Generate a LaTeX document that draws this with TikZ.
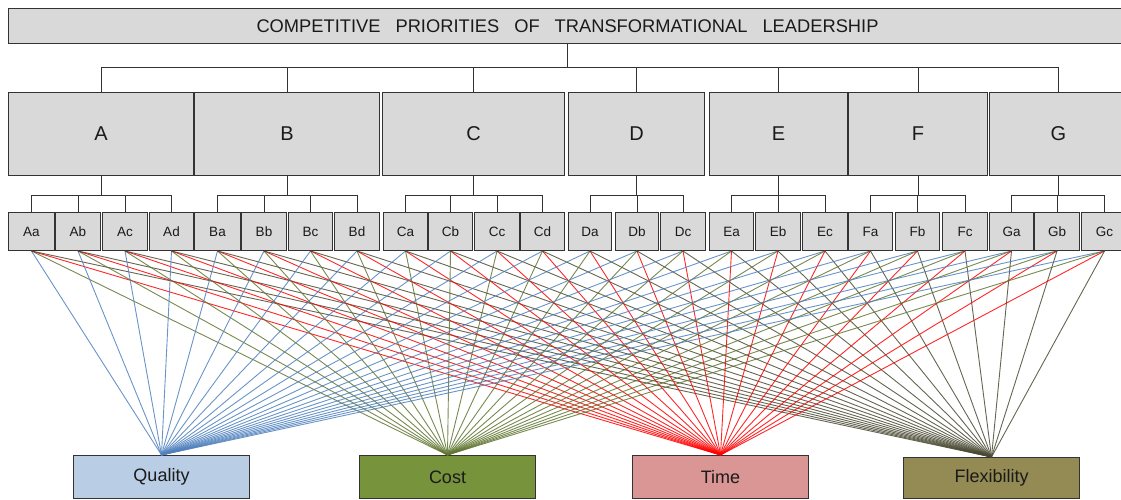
\documentclass[tikz,border=0pt]{standalone}
\usepackage{fontspec}
\setmainfont{Liberation Sans}
\definecolor{boxgray}{RGB}{217,217,217}
\definecolor{qfill}{RGB}{185,205,229}
\definecolor{cfill}{RGB}{119,147,60}
\definecolor{tfill}{RGB}{217,150,148}
\definecolor{ffill}{RGB}{148,138,84}
\definecolor{qline}{RGB}{79,129,189}
\definecolor{cline}{RGB}{95,117,48}
\definecolor{tline}{RGB}{255,0,0}
\definecolor{fline}{RGB}{74,74,52}
\definecolor{txt}{RGB}{26,26,26}
\begin{document}
\begin{tikzpicture}[x=1pt,y=-1pt,
  box/.style={draw=black!80, line width=1pt, fill=boxgray, inner sep=0pt, anchor=north west, text=txt},
  catbox/.style={box, minimum height=83pt, font=\fontsize{20}{24}\selectfont},
  subbox/.style={box, minimum height=38pt, font=\fontsize{13.5}{16}\selectfont},
  prio/.style={box, font=\fontsize{18}{21}\selectfont},
  conn/.style={draw=black!80, line width=1pt},
  lq/.style={draw=qline, line width=0.9pt, opacity=0.85},
  lc/.style={draw=cline, line width=0.9pt, opacity=0.85},
  lt/.style={draw=tline, line width=0.9pt, opacity=0.85},
  lf/.style={draw=fline, line width=0.9pt, opacity=0.85}]
\useasboundingbox (0,0) rectangle (1121,500);
\clip (0,0) rectangle (1121,500);

% title
\node[box, minimum width=1118pt, minimum height=35pt, font=\fontsize{18.3}{21}\selectfont] (title) at (8,8)
  {COMPETITIVE\hspace{15pt}PRIORITIES\hspace{15pt}OF\hspace{15pt}TRANSFORMATIONAL\hspace{15pt}LEADERSHIP\hspace{3pt}};

% category boxes
\foreach \n/\a/\b in {A/8/193, B/194/379, C/382/564, D/568/704, E/709/847, F/848/987, G/989/1127}
  \node[catbox, minimum width={(\b-\a)*1pt}] (\n) at (\a,92) {\n};

% sub boxes
\foreach \n/\a/\b in {Aa/8/54, Ab/55/100, Ac/102/147, Ad/149/193,
                      Ba/194/240, Bb/241/286, Bc/288/332, Bd/334/379,
                      Ca/383/427, Cb/428/472, Cc/474/519, Cd/520/564,
                      Da/568/611, Db/615/658, Dc/660/705,
                      Ea/709/753, Eb/755/800, Ec/802/847,
                      Fa/848/892, Fb/895/939, Fc/942/987,
                      Ga/989/1033, Gb/1034/1079, Gc/1081/1127}
  \node[subbox, minimum width={(\b-\a)*1pt}] (\n) at (\a,212) {\n};

% priority boxes
\node[prio, fill=qfill, minimum width=176pt, minimum height=43pt] (Q) at (73,455) {Quality};
\node[prio, fill=cfill, minimum width=176pt, minimum height=43pt] (Co) at (359,455) {Cost};
\node[prio, fill=tfill, minimum width=176pt, minimum height=43pt] (T) at (632,455) {Time};
\node[prio, fill=ffill, minimum width=176pt, minimum height=41pt] (Fl) at (903,457) {Flexibility};

% tree connectors
\foreach \n in {A,B,C,D,E,F,G}
  \draw[conn] (title.south) -- ++(0,24) -| (\n.north);
\foreach \p/\c in {A/Aa, A/Ab, A/Ac, A/Ad, B/Ba, B/Bb, B/Bc, B/Bd,
                   C/Ca, C/Cb, C/Cc, C/Cd, D/Da, D/Db, D/Dc,
                   E/Ea, E/Eb, E/Ec, F/Fa, F/Fb, F/Fc, G/Ga, G/Gb, G/Gc}
  \draw[conn] (\p.south) -- ++(0,19) -| (\c.north);

% links
\foreach \s in {Aa,Ab,Ac,Ad,Ba,Bb,Bc,Bd,Ca,Cb,Cc,Cd,Da,Db,Dc,Ea,Eb,Ec,Fa,Fb,Fc,Ga,Gb,Gc}{
  \draw[lq] (\s.south) -- (Q.north);
  \draw[lc] (\s.south) -- (Co.north);
  \draw[lt] (\s.south) -- (T.north);
  \draw[lf] (\s.south) -- (Fl.north);
}
\end{tikzpicture}
\end{document}
